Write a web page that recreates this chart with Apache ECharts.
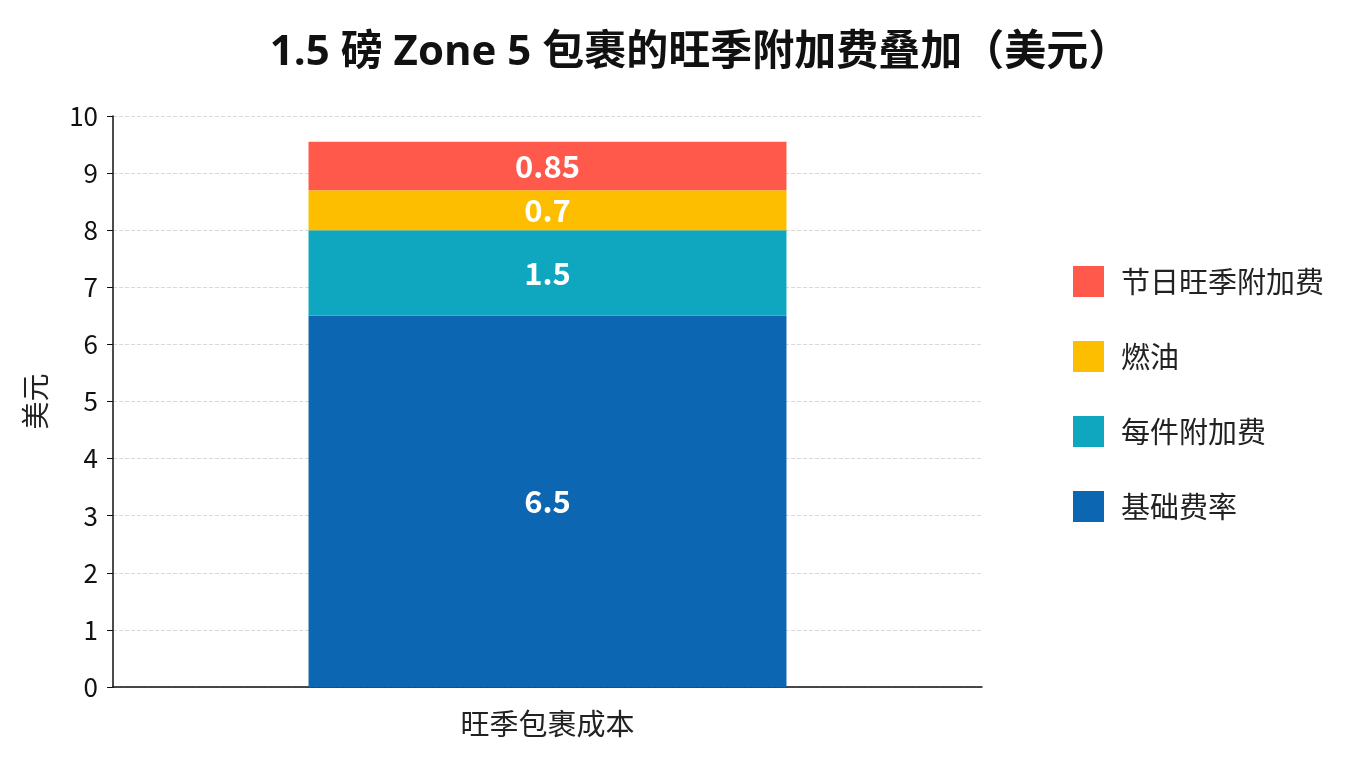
<!DOCTYPE html>
<html>
<head>
<meta charset="utf-8">
<script src="https://cdn.jsdelivr.net/npm/echarts@6/dist/echarts.min.js"></script>
<style>
html,body{margin:0;padding:0;background:#fff;}
#chart{width:1360px;height:768px;}
</style>
</head>
<body>
<div id="chart"></div>
<script>
const categories = ['旺季包裹成本'];
const seriesNames = ['基础费率', '每件附加费', '燃油', '节日旺季附加费'];
const baseRate = [6.5];
const perPiece = [1.5];
const fuel = [0.7];
const holiday = [0.85];
const seriesColors = ['#0C66B1', '#0EA7BF', '#FDBE00', '#FF594B'];
const legendOrder = ['节日旺季附加费', '燃油', '每件附加费', '基础费率'];

const font = '"Noto Sans CJK SC", "Noto Sans", sans-serif';
const titleFont = '"Open Sans", "Noto Sans CJK SC", sans-serif';
const values = [baseRate, perPiece, fuel, holiday];

const chart = echarts.init(document.getElementById('chart'));
chart.setOption({
  backgroundColor: '#fff',
  animation: false,
  title: {
    text: '1.5 磅 Zone 5 包裹的旺季附加费叠加（美元）',
    left: 695,
    textAlign: 'center',
    top: 27,
    textStyle: {fontFamily: titleFont, fontSize: 42, fontWeight: 'bold', color: '#111'}
  },
  legend: {
    orient: 'vertical',
    left: 1068,
    top: 261,
    itemWidth: 31,
    itemHeight: 31,
    itemGap: 44,
    icon: 'rect',
    data: legendOrder,
    textStyle: {fontFamily: font, fontSize: 29, color: '#222', padding: [0,0,0,12]}
  },
  grid: {left: 113, right: 378, top: 116, bottom: 81},
  xAxis: {
    type: 'category',
    data: categories,
    axisLine: {lineStyle: {color: '#111', width: 1.5}},
    axisTick: {alignWithLabel: true, length: 6, lineStyle: {color: '#555'}},
    axisLabel: {fontFamily: font, fontSize: 29, color: '#222', margin: 22}
  },
  yAxis: {
    type: 'value',
    min: 0, max: 10, interval: 1,
    name: '美元',
    nameLocation: 'middle',
    nameGap: 64,
    nameRotate: 90,
    nameTextStyle: {fontFamily: font, fontSize: 28, color: '#222'},
    axisLine: {show: true, lineStyle: {color: '#111', width: 1.5}},
    axisTick: {show: true, length: 6, lineStyle: {color: '#111'}},
    axisLabel: {fontFamily: font, fontSize: 26, color: '#111', margin: 15},
    splitLine: {lineStyle: {color: '#d9d9d9', type: 'dashed'}}
  },
  series: seriesNames.map((name, i) => ({
    name: name,
    type: 'bar',
    stack: 'total',
    data: values[i],
    barWidth: '55%',
    itemStyle: {color: seriesColors[i]},
    label: {
      show: true,
      position: 'inside',
      color: '#fff',
      fontFamily: font,
      fontSize: 31,
      fontWeight: 'bold'
    }
  }))
});
</script>
</body>
</html>
